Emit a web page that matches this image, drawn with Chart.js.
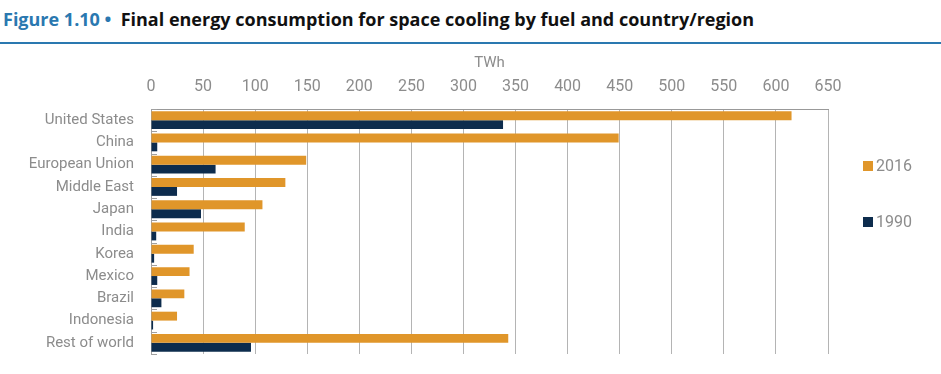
<!DOCTYPE html>
<html>
<head>
<meta charset="utf-8">
<script src="https://cdn.jsdelivr.net/npm/chart.js@4.4.1/dist/chart.umd.min.js"></script>
<style>
    body { margin: 0; background: #fff; width: 941px; height: 374px; overflow: hidden; position: relative; }
    .titulo { position: absolute; left: 3px; top: 7px; font-family: "Open Sans", sans-serif; font-weight: bold; font-size: 18px; color: #111; white-space: nowrap; letter-spacing: 0px; }
    .titulo span { color: #2a78b0; }
    .linea { position: absolute; left: 0; top: 42px; width: 941px; height: 2px; background: #2a78b0; }
    .lienzo { position: absolute; left: 0; top: 48px; width: 941px; height: 326px; }
    .leyenda { position: absolute; left: 863px; font-family: Roboto, sans-serif; font-size: 16px; color: #8c8c8c; }
    .leyenda i { display: inline-block; width: 10px; height: 10px; margin-right: 3px; vertical-align: 0px; }
</style>
</head>
<body>
<div class="titulo"><span>Figure 1.10 &bull;</span>&nbsp; Final energy consumption for space cooling by fuel and country/region</div>
<div class="linea"></div>
<div class="lienzo"><canvas id="grafica" width="941" height="326"></canvas></div>
<div class="leyenda" style="top:156px"><i style="background:#e0962a"></i>2016</div>
<div class="leyenda" style="top:212px"><i style="background:#0d2c4d"></i>1990</div>
<script>
// categorias y valores (TWh)
var regiones = ["United States", "China", "European Union", "Middle East", "Japan", "India", "Korea", "Mexico", "Brazil", "Indonesia", "Rest of world"];
var valores2016 = [615, 449, 149, 129, 107, 90, 41, 37, 32, 25, 343];
var valores1990 = [338, 6, 62, 25, 48, 5, 3, 6, 10, 2, 96];
var ticksX = [0, 50, 100, 150, 200, 250, 300, 350, 400, 450, 500, 550, 600, 650];

var fuente = 'Roboto, sans-serif';
var gris = '#8c8c8c';

// marcas cortas hacia dentro en el eje de categorias
var marcasDentro = {
    id: 'marcasDentro',
    afterDraw: function (chart) {
        var y = chart.scales.y, ctx = chart.ctx;
        var paso = y.height / regiones.length;
        ctx.save();
        ctx.strokeStyle = '#a0a0a0';
        ctx.lineWidth = 1;
        for (var i = 0; i <= regiones.length; i++) {
            var py = Math.round(y.top + i * paso) + 0.5;
            ctx.beginPath();
            ctx.moveTo(y.right, py);
            ctx.lineTo(y.right + 6, py);
            ctx.stroke();
        }
        ctx.restore();
    }
};

var ctx1 = document.getElementById('grafica').getContext('2d');
new Chart(ctx1, {
    type: 'bar',
    data: {
        labels: regiones,
        datasets: [
            {label: '2016', data: valores2016, backgroundColor: '#e0962a', barPercentage: 1, categoryPercentage: 0.8},
            {label: '1990', data: valores1990, backgroundColor: '#0d2c4d', barPercentage: 1, categoryPercentage: 0.8}
        ]
    },
    options: {
        indexAxis: 'y',
        responsive: false,
        animation: false,
        layout: {padding: {top: 0, right: 113, bottom: 20, left: 0}},
        plugins: {legend: {display: false}, tooltip: {enabled: false}},
        scales: {
            x: {
                position: 'top',
                min: 0, max: 650,
                afterBuildTicks: function (scale) {
                    scale.ticks = ticksX.map(function (v) { return {value: v}; });
                },
                afterFit: function (scale) { scale.height = 61; },
                grid: {color: '#b4b4b4', drawTicks: false},
                border: {display: true, color: '#999999'},
                ticks: {color: gris, font: {family: fuente, size: 16}, padding: 12},
                title: {display: true, text: 'TWh', color: gris, font: {family: fuente, size: 15}, padding: {top: 6, bottom: 0}}
            },
            y: {
                afterFit: function (scale) {
                    scale.width = 151;
                    scale.paddingTop = 0;
                    scale.paddingBottom = 0;
                },
                grid: {display: false, drawTicks: false},
                border: {display: true, color: '#a0a0a0'},
                ticks: {color: gris, font: {family: fuente, size: 15}, padding: 17, autoSkip: false}
            }
        }
    },
    plugins: [marcasDentro]
});
</script>
</body>
</html>
